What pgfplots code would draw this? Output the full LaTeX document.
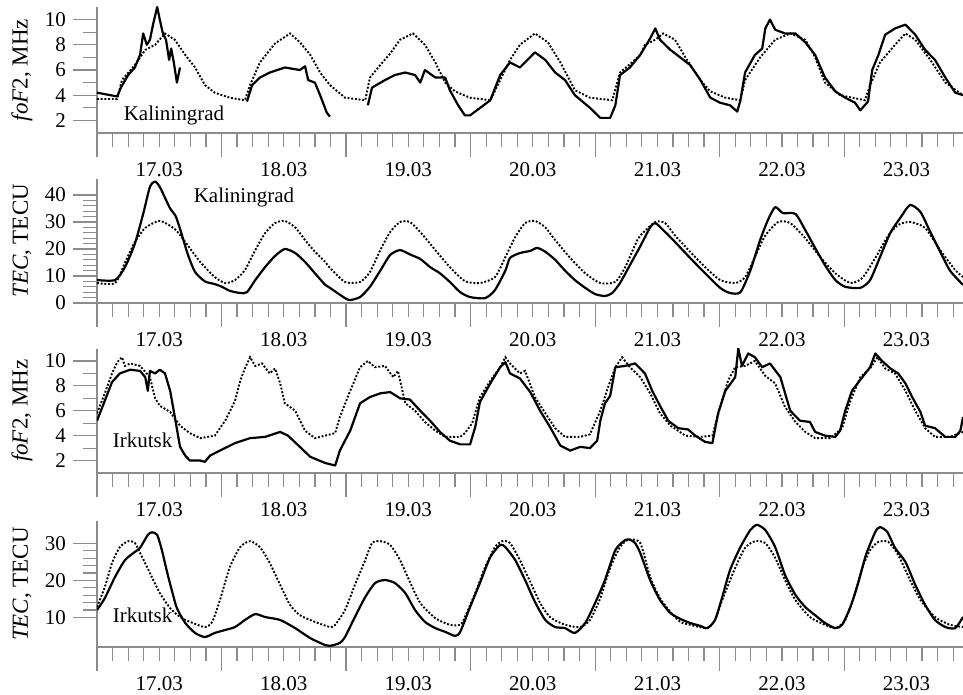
\documentclass[border=0pt]{standalone}
\usepackage{fontspec}
\setmainfont{Liberation Serif}
\usepackage{pgfplots}
\pgfplotsset{compat=1.18}

\definecolor{axgray}{gray}{0.55}

\pgfplotsset{
  panel/.style={
    scale only axis, width=433pt,
    xmin=0, xmax=166.9,
    axis lines=left, axis line style={-, axgray, line width=0.6pt},
    tick align=outside, tick style={axgray, line width=0.6pt},
    major tick length=12pt, minor tick length=7pt,
    xtick={0,24,...,168}, xticklabels={}, minor x tick num=7,
    extra x ticks={12,36,...,156},
    extra x tick labels={17.03,18.03,19.03,20.03,21.03,22.03,23.03},
    extra x tick style={major tick length=0pt, tick label style={yshift=-11pt}},
    tick label style={font=\fontsize{10.5}{12}\selectfont, text=black},
    /pgf/number format/assume math mode=true,
    ylabel style={at={(axis description cs:-0.0866,0.5)}, anchor=center,
      font=\fontsize{11.5}{13}\selectfont},
  },
  sol/.style={black, line width=1.1pt, line join=round},
  dot/.style={black, line width=0.95pt, dash pattern=on 0.95pt off 0.9pt},
  tec/.style={smooth, tension=0.4},
}
\tikzset{stn/.style={anchor=west, font=\fontsize{10.5}{12}\selectfont}}

\begin{document}
\begin{tikzpicture}
\path[use as bounding box] (0,0) rectangle (481.5pt,-347.5pt);

% foF2 Kaliningrad
\begin{axis}[panel, at={(48.5pt,-66.5pt)}, anchor=south west, height=63pt,
  ymin=1, ymax=11, ytick={2,4,...,10}, minor y tick num=1, ylabel={\textit{foF}2, MHz}]
\addplot[dot] coordinates {(0,3.7)(3.9,3.7)(4.8,5.2)(7.3,6.4)(9.3,7.6)(11.2,8.0)(13.1,8.9)(15.0,8.4)(17.0,7.2)(18.9,6.2)(20.8,4.8)(22.7,4.2)(25.6,3.8)(28.5,3.6)(29.5,4.8)(31.4,6.6)(34.3,8.1)(37.2,8.9)(39.1,8.2)(41.1,7.2)(43.0,5.8)(44.9,4.8)(47.8,3.8)(51.7,3.6)(52.6,5.4)(54.6,6.4)(56.5,7.3)(58.4,8.4)(60.9,8.9)(63.2,8.0)(65.2,6.6)(67.1,5.0)(69.0,4.3)(71.9,3.8)(75.8,3.6)(77.7,5.2)(79.6,6.8)(81.5,8.0)(84.4,8.9)(86.9,8.2)(89.3,6.6)(92.1,4.4)(95.0,3.8)(99.3,3.6)(100.8,5.8)(103.1,6.6)(104.7,7.2)(105.6,8.0)(107.6,8.4)(109.1,8.9)(111.4,8.4)(113.4,7.0)(116.3,5.2)(118.2,4.3)(121.1,3.8)(124.0,3.6)(124.9,5.2)(127.8,7.0)(130.7,8.4)(133.6,8.9)(136.5,8.4)(138.4,7.0)(140.3,5.0)(143.2,4.0)(148.0,3.6)(149.0,4.8)(150.9,6.6)(153.8,8.0)(155.8,8.9)(157.7,8.4)(160.6,6.8)(163.5,5.0)(166.9,4.0)};
\addplot[sol] coordinates {(0,4.2)(3.9,3.9)(4.6,4.6)(6.0,5.6)(7.3,6.2)(8.3,7.2)(8.9,8.9)(9.6,8.0)(10.2,8.4)(10.8,9.6)(11.6,11.0)(12.1,10.0)(12.7,8.9)(13.3,8.4)(13.9,6.8)(14.3,7.7)(14.8,6.6)(15.4,5.0)(16.0,6.2)};
\addplot[sol] coordinates {(28.9,3.5)(29.9,4.8)(31.4,5.4)(33.3,5.8)(36.2,6.2)(39.1,6.0)(40.1,6.3)(40.7,5.2)(42.0,5.0)(43.0,4.0)(44.3,2.6)(44.9,2.3)};
\addplot[sol] coordinates {(52.2,3.2)(53.0,4.6)(55.5,5.2)(57.4,5.6)(59.4,5.8)(61.3,5.6)(62.3,5.0)(63.2,6.0)(65.2,5.4)(67.1,5.4)(68.0,4.4)(69.6,3.2)(70.9,2.4)(71.9,2.4)(75.8,3.6)(77.7,5.6)(79.6,6.6)(81.5,6.2)(84.4,7.4)(86.4,6.8)(88.3,5.8)(90.2,5.2)(92.1,4.0)(95.0,3.0)(97.0,2.2)(98.9,2.2)(99.9,3.2)(100.8,5.6)(102.7,6.2)(104.7,7.2)(106.6,8.5)(107.6,9.3)(108.5,8.4)(110.5,7.6)(112.4,7.0)(114.3,6.4)(116.3,5.2)(118.2,3.8)(120.1,3.4)(122.0,3.2)(123.4,2.7)(124.0,3.6)(124.9,5.8)(126.8,7.2)(128.2,7.7)(128.8,9.3)(129.7,10.0)(130.7,9.2)(132.6,8.9)(134.6,8.9)(136.5,8.2)(138.4,7.2)(140.3,5.4)(142.3,4.3)(144.2,3.8)(146.1,3.4)(147.1,2.8)(148.6,3.5)(149.4,6.0)(150.6,7.2)(151.9,8.8)(153.8,9.3)(155.8,9.6)(157.7,8.8)(159.6,7.6)(161.5,6.8)(163.5,5.4)(165.4,4.2)(166.9,4.0)};
\node[stn] at (axis cs:3.8,2.4) {Kaliningrad};
\end{axis}

% TEC Kaliningrad
\begin{axis}[panel, at={(48.5pt,-151.5pt)}, anchor=south west, height=62.1pt,
  ymin=0, ymax=46, ytick={0,10,...,40}, minor y tick num=4, ylabel={\textit{TEC}, TECU}]
\addplot[dot, tec] coordinates {(0,7.4)(3.5,7.4)(5.4,15)(7.3,22.6)(9.3,27.8)(12.1,30.4)(15.0,27.4)(17.0,22.6)(19.9,15.2)(22.7,9.6)(24.7,7.4)(26.6,8.5)(28.5,12.2)(30.5,19.6)(32.4,25.9)(34.3,29.6)(36.2,30.4)(38.2,28)(40.1,23.3)(42.0,19)(44.0,15.2)(44.9,13)(47.8,7.8)(50.7,7.8)(52.6,11.5)(54.6,19.6)(56.5,26.3)(58.4,30)(60.3,30)(62.3,26.3)(65.2,19.6)(68.0,13.3)(70.9,8.1)(73.8,7.4)(76.7,9.6)(78.7,17)(80.6,24.4)(82.5,29.6)(84.4,30.4)(86.4,28)(88.3,23.3)(91.2,16.7)(94.1,11)(97.0,7.4)(99.9,7.8)(101.8,13.3)(103.7,21.5)(104.7,25)(107.6,30)(109.5,29.6)(111.4,25)(114.3,19)(117.2,13.3)(120.1,8.5)(123.0,7.4)(124.9,9.6)(126.8,17)(128.8,25)(131.3,30)(133.6,29.6)(136.5,24)(139.4,17)(142.3,11)(145.2,7.4)(147.5,9.3)(150.0,16.7)(152.5,25)(154.4,28.9)(156.7,30)(159.6,27.8)(162.5,19.6)(165.4,12.2)(166.9,9.6)};
\addplot[sol, tec] coordinates {(0,8.5)(3.5,8.5)(5.4,13.3)(7.3,22)(8.9,33)(10.2,43)(11.2,45)(12.1,43)(13.1,39)(14.1,35)(15.2,32)(16.4,25)(17.5,18)(18.9,11.5)(20.8,8)(22.7,7)(24.1,6)(25.6,4.5)(27.6,3.7)(28.9,4)(30.5,8.5)(32.4,13.3)(34.3,17.4)(36.2,20)(38.2,18.5)(40.1,15.2)(42.0,11)(44.0,6.7)(44.9,5.6)(47.8,1.8)(48.8,1.1)(50.7,2.2)(52.6,6)(54.6,12)(56.5,17.8)(58.4,19.6)(60.3,18)(62.3,16.3)(64.2,13.3)(66.1,11)(68.0,7.8)(70.0,4)(71.9,2.2)(74.8,1.8)(76.7,4.8)(78.7,12)(79.6,16.7)(81.5,18.5)(83.5,19.3)(84.8,20.4)(86.4,19)(88.3,16)(90.2,12)(92.1,8.5)(94.1,5.6)(96.0,3.3)(97.9,2.6)(99.3,3.7)(100.8,7.4)(102.7,14)(104.7,21)(106.6,28)(107.6,29.6)(109.5,26.3)(111.4,22.6)(114.3,16.7)(117.2,11)(120.1,5.6)(122.0,3.7)(124.0,4)(125.9,12)(127.8,23.3)(129.3,30.7)(130.7,35.5)(132.2,33.3)(134.6,33)(136.5,27)(138.4,20.4)(140.3,14)(142.3,8.5)(144.2,6)(147.1,5.6)(149.0,8.5)(150.9,17)(152.9,26)(154.8,31.5)(156.7,36.3)(158.7,33.7)(160.6,26.3)(162.5,19)(164.4,12)(166.9,6.7)};
\node[stn] at (axis cs:17.3,38.9) {Kaliningrad};
\end{axis}

% foF2 Irkutsk
\begin{axis}[panel, at={(48.5pt,-236.5pt)}, anchor=south west, height=62.25pt,
  ymin=1, ymax=11, ytick={2,4,...,10}, minor y tick num=1, ylabel={\textit{foF}2, MHz}]
\addplot[dot] coordinates {(0,5.8)(1.5,7.4)(2.9,9.0)(3.9,9.9)(4.8,10.3)(5.4,9.6)(6.4,9.8)(8.3,9.6)(10.2,8.7)(11.2,7.0)(12.1,6.4)(14.1,5.9)(16.0,4.8)(17.9,4.2)(19.9,3.8)(22.7,4.0)(24.7,5.2)(26.6,6.8)(27.6,8.4)(28.5,9.4)(29.5,10.3)(30.5,9.6)(31.8,9.8)(33.3,9.0)(34.3,9.4)(35.3,8.2)(36.2,6.6)(38.2,6.0)(40.1,4.4)(42.0,3.8)(45.9,4.2)(46.8,5.5)(48.8,7.6)(50.7,9.5)(52.2,10.0)(53.6,9.5)(55.5,9.6)(57.1,8.7)(58.0,9.2)(59.4,6.6)(61.3,6.0)(63.2,5.1)(65.2,4.4)(67.1,3.9)(70.0,3.9)(70.9,4.2)(72.3,5.0)(73.8,7.1)(75.8,8.4)(77.7,9.5)(78.7,10.3)(79.6,9.8)(81.5,9.0)(82.5,9.2)(84.4,7.1)(86.4,5.8)(88.3,4.6)(90.2,3.9)(93.1,3.9)(95.0,4.1)(97.0,6.0)(98.5,7.9)(99.9,9.5)(101.2,10.3)(102.7,9.5)(104.7,8.7)(106.6,7.4)(108.5,5.8)(110.5,4.8)(113.4,4.0)(116.2,3.9)(118.6,4.0)(120.1,6.3)(121.6,8.4)(123.0,9.5)(124.9,9.6)(126.8,10.0)(128.8,8.8)(130.7,8.2)(132.6,6.3)(134.6,5.1)(136.5,4.3)(138.4,3.8)(141.3,3.8)(143.6,4.6)(145.2,6.8)(147.1,8.7)(149.0,9.4)(150.4,10.3)(151.9,9.4)(153.8,9.0)(155.8,7.6)(157.7,6.0)(159.6,4.6)(161.5,3.9)(164.4,3.9)(166.9,4.3)};
\addplot[sol] coordinates {(0,5.2)(1.5,6.8)(2.9,8.3)(4.4,9.0)(6.4,9.3)(8.3,9.2)(9.3,8.7)(9.8,7.6)(10.2,9.2)(11.2,9.0)(12.1,9.3)(13.1,9.0)(14.1,7.6)(15.0,5.5)(16.0,3.1)(17.0,2.4)(17.9,2.0)(19.9,2.0)(20.8,1.9)(21.8,2.4)(23.7,2.8)(26.6,3.4)(29.5,3.8)(32.4,3.9)(35.3,4.3)(36.8,4.0)(39.1,3.1)(41.1,2.3)(44.0,1.8)(45.9,1.6)(46.8,2.8)(48.8,4.4)(50.7,6.6)(52.6,7.1)(54.6,7.4)(56.5,7.5)(58.4,7.0)(60.3,6.9)(62.3,6.0)(64.2,5.2)(66.1,4.3)(68.0,3.6)(70.0,3.3)(71.9,3.3)(72.9,4.7)(73.8,6.7)(75.8,8.2)(77.7,9.5)(78.7,9.9)(79.6,9.0)(81.5,8.6)(83.5,7.5)(85.4,6.0)(87.3,4.7)(89.3,3.2)(91.2,2.8)(93.1,3.1)(95.0,3.0)(96.4,3.6)(97.0,5.2)(97.9,6.6)(98.9,7.2)(99.9,9.5)(101.8,9.6)(103.7,9.8)(105.6,9.0)(107.0,7.6)(108.5,6.4)(110.1,5.2)(112.0,4.6)(113.9,4.5)(115.3,4.0)(117.2,3.5)(118.6,3.4)(119.7,5.8)(121.1,7.6)(123.0,8.7)(123.6,11.0)(124.3,9.6)(125.5,10.6)(126.8,10.3)(128.2,9.5)(129.7,9.8)(131.7,8.7)(133.6,6.0)(135.5,5.2)(137.4,5.1)(138.4,4.3)(140.3,4.0)(142.3,3.9)(143.2,4.4)(144.2,6.0)(145.5,7.6)(147.5,8.7)(149.0,9.5)(150.0,10.6)(151.3,10.0)(152.9,9.4)(154.4,9.0)(155.8,8.2)(157.1,7.1)(158.7,5.9)(159.6,4.8)(161.5,4.6)(163.5,3.9)(165.4,3.9)(166.4,4.4)(166.9,5.5)};
\node[stn] at (axis cs:1.7,3.65) {Irkutsk};
\end{axis}

% TEC Irkutsk
\begin{axis}[panel, at={(48.5pt,-323.5pt)}, anchor=south west, height=62.9pt,
  ymin=2, ymax=36, ytick={10,20,30}, minor y tick num=4, ylabel={\textit{TEC}, TECU}]
\addplot[dot, tec] coordinates {(0,12.8)(1.5,18.2)(2.9,24.7)(4.4,29)(6.0,30.6)(7.3,30.1)(8.7,26.3)(10.2,22)(12.1,16.6)(14.1,12.5)(16.0,10.1)(17.9,8.8)(20.8,7.4)(22.2,8.8)(23.7,14.7)(25.6,23.6)(27.6,29)(29.5,30.6)(31.4,29)(33.3,24.7)(35.3,18.8)(37.2,13.4)(39.1,10.6)(42.0,8.8)(44.9,7.4)(45.9,8)(47.8,12)(49.7,18.8)(51.7,25.5)(53.0,30.1)(54.6,30.6)(56.5,29.6)(58.4,25.5)(60.3,19.6)(62.3,13.9)(65.2,9.8)(68.0,8)(70.0,8)(70.9,10.1)(72.9,16.6)(74.8,23.6)(76.7,29)(78.1,30.6)(79.6,30.1)(81.5,25.5)(83.5,19.6)(85.4,13.9)(87.3,10.1)(90.2,8)(93.1,7.4)(95.0,9.3)(97.0,15.2)(98.9,23.4)(100.8,29)(102.4,31)(104.7,30.1)(106.6,21)(108.5,15.2)(110.5,11.5)(112.4,8.8)(114.3,8)(117.6,7.1)(119.1,9.3)(120.5,14.7)(123.0,23.4)(124.9,28.8)(126.8,30.6)(128.8,30.1)(130.7,26.1)(132.6,20.1)(134.6,14.7)(137.4,10.1)(140.3,8)(142.3,7.1)(144.2,9.3)(146.1,16.6)(147.5,23.4)(149.0,28.2)(150.6,30.4)(152.5,30.4)(154.4,26.9)(156.7,20.1)(158.7,14.7)(161.5,10.1)(164.4,8)(166.9,7.4)};
\addplot[sol, tec] coordinates {(0,12)(1.5,15.2)(3.5,21)(5.4,25.5)(7.3,27.7)(8.3,28.8)(9.8,32.3)(10.6,33)(11.6,32.3)(12.5,28.2)(13.5,22.3)(14.5,16.9)(15.4,12.5)(17.0,8.5)(18.9,5.8)(20.8,4.7)(22.7,5.8)(24.7,6.6)(26.6,7.4)(28.5,9.3)(30.5,10.9)(32.4,10.1)(35.3,9.3)(38.2,7.1)(41.1,4.4)(44.0,2.5)(44.9,2.3)(46.8,3.1)(47.8,4.7)(49.7,10.1)(51.7,15.5)(53.6,19.3)(55.5,20.1)(57.4,19.3)(59.4,16.6)(61.3,12)(63.2,8.8)(65.2,7.1)(67.1,6.1)(69.0,5.0)(70.0,6.1)(71.9,12.8)(73.8,19.3)(75.8,26.3)(77.7,29.6)(78.7,29)(80.6,25.5)(82.5,20.1)(84.4,14.2)(86.4,9.3)(88.3,7.4)(90.2,7.1)(92.1,5.8)(94.1,8.5)(96.0,13.9)(97.9,20.1)(99.9,28.2)(101.8,30.9)(102.7,31)(103.7,30.1)(104.7,27.4)(106.6,20.1)(108.5,14.7)(110.5,11.2)(112.4,9.6)(114.3,8.5)(116.3,7.7)(117.6,7.1)(119.1,9.3)(120.5,15.5)(122.0,22.8)(124.0,29)(125.9,33.6)(127.2,35)(128.8,33.6)(130.7,29)(132.6,21.5)(134.6,16.1)(136.5,12.8)(138.4,10.6)(140.3,8.5)(142.3,7.1)(143.6,8)(145.2,12.8)(146.7,19.3)(148.2,26.9)(150.0,33.1)(150.9,34.4)(152.3,33.1)(153.8,28.8)(155.8,25)(157.7,18.8)(159.6,13.4)(161.5,9.3)(163.5,7.4)(165.4,7.1)(166.9,10.1)};
\node[stn] at (axis cs:1.7,10.6) {Irkutsk};
\end{axis}
\end{tikzpicture}
\end{document}
